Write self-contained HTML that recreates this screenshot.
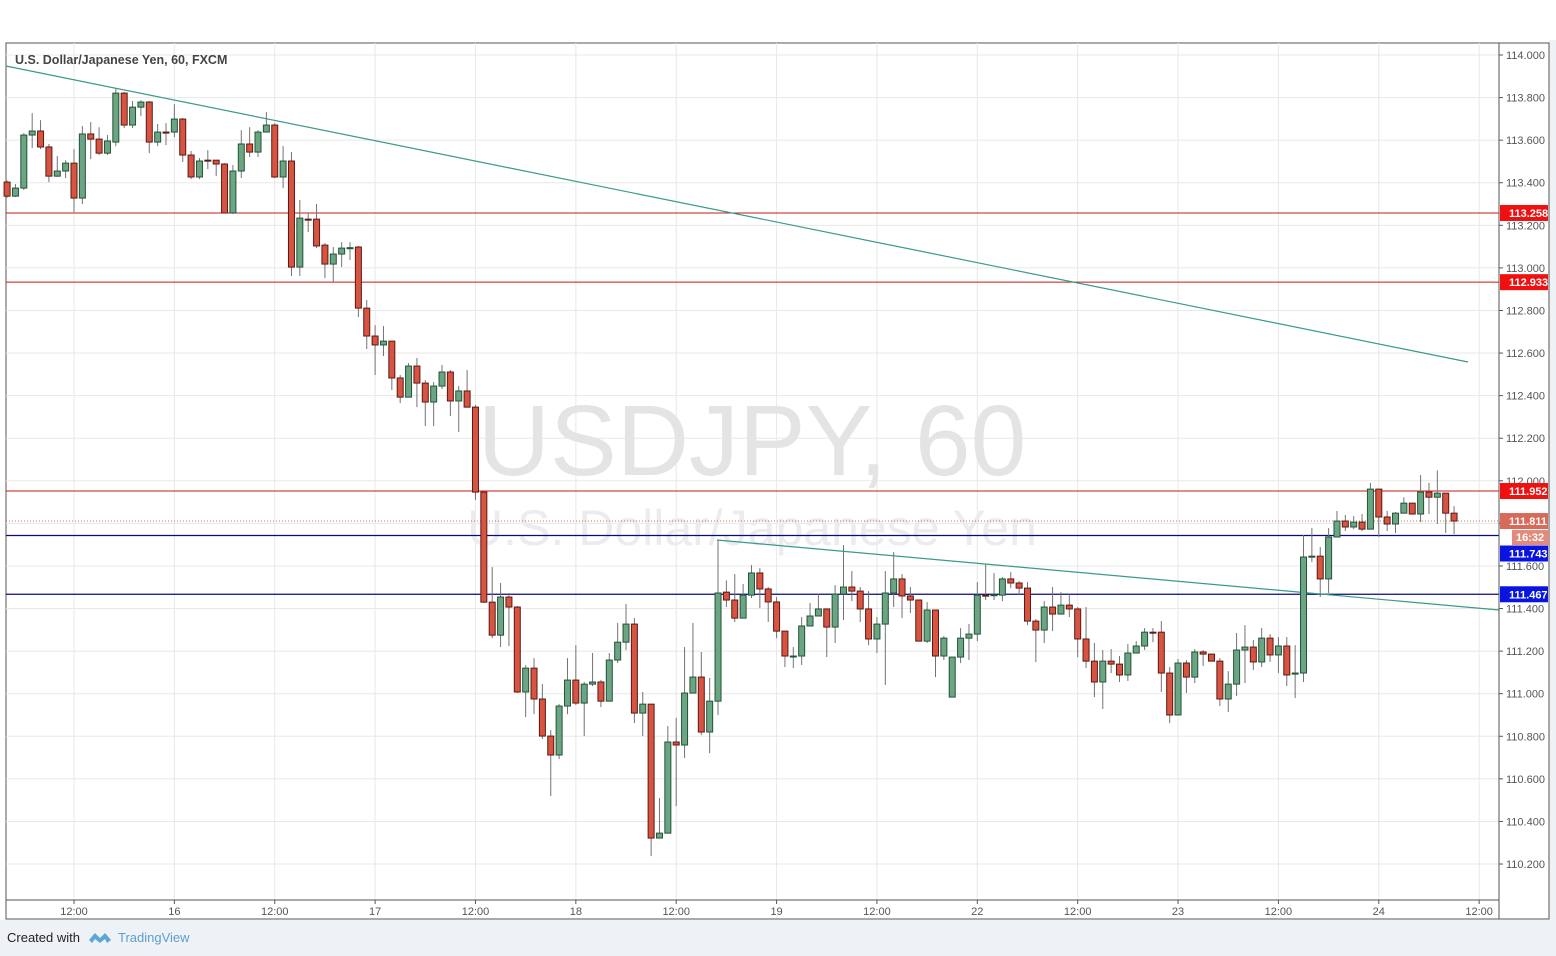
<!DOCTYPE html>
<html><head><meta charset="utf-8">
<style>
html,body{margin:0;padding:0;width:1556px;height:956px;overflow:hidden;background:#fff;font-family:"Liberation Sans",sans-serif;}
#wrap{position:absolute;left:0;top:0;width:1556px;height:956px;}
.footer{position:absolute;left:0;top:920px;width:1556px;height:36px;background:#eef2f6;}
.side{position:absolute;left:1549px;top:40px;width:7px;height:880px;background:#eef2f6;}
</style></head>
<body>
<div id="wrap">
<div class="side"></div>
<div class="footer">
  <span style="position:absolute;left:7px;top:10px;font-size:13px;color:#222;">Created with</span>
  <svg style="position:absolute;left:88px;top:9px" width="24" height="16" viewBox="0 0 24 16"><path d="M1 11 L7 4 L12 9 L17 4 L23 11 L19 14 L17 10 L12 14 L7 10 L4 14 Z" fill="#5fa6d6"/></svg>
  <span style="position:absolute;left:118px;top:10px;font-size:13px;color:#5aa0cf;">TradingView</span>
</div>
<svg id="chart" width="1556" height="920" style="position:absolute;left:0;top:0" xmlns="http://www.w3.org/2000/svg"></svg>
</div>
<script>
const opens=[113.403,113.337,113.375,113.624,113.643,113.568,113.431,113.455,113.492,113.328,113.629,113.605,113.539,113.591,113.821,113.671,113.755,113.779,113.591,113.638,113.638,113.699,113.530,113.427,113.506,113.506,113.488,113.258,113.455,113.582,113.544,113.638,113.671,113.427,113.502,113.004,113.229,113.229,113.107,113.018,113.065,113.093,113.098,112.811,112.680,112.638,112.656,112.483,112.393,112.539,112.459,112.370,112.445,112.511,112.375,112.422,112.346,111.947,111.430,111.275,111.454,111.407,111.008,111.120,110.975,110.801,110.712,110.942,111.064,110.956,111.045,111.055,110.965,111.158,111.242,111.327,110.909,110.951,110.322,110.345,110.773,110.759,111.003,111.078,110.820,110.965,111.477,111.440,111.355,111.463,111.567,111.492,111.431,111.294,111.177,111.177,111.318,111.365,111.398,111.313,111.468,111.501,111.482,111.398,111.257,111.327,111.473,111.539,111.459,111.440,111.247,111.393,111.177,110.984,111.172,111.261,111.280,111.463,111.463,111.463,111.539,111.520,111.496,111.341,111.299,111.407,111.374,111.416,111.398,111.257,111.153,111.055,111.153,111.139,111.088,111.191,111.224,111.289,111.289,111.097,110.900,111.144,111.078,111.196,111.186,111.153,110.975,111.045,111.205,111.219,111.149,111.261,111.182,111.224,111.092,111.097,111.642,111.646,111.539,111.736,111.811,111.783,111.806,111.773,111.961,111.830,111.797,111.848,111.895,111.844,111.947,111.923,111.942,111.848];
const highs=[113.41,113.394,113.633,113.727,113.694,113.582,113.525,113.506,113.558,113.666,113.685,113.661,113.624,113.845,113.826,113.784,113.788,113.784,113.676,113.680,113.769,113.704,113.549,113.516,113.553,113.506,113.492,113.483,113.647,113.661,113.647,113.732,113.680,113.572,113.544,113.319,113.258,113.300,113.117,113.098,113.121,113.121,113.103,112.849,112.731,112.727,112.656,112.497,112.553,112.577,112.473,112.464,112.544,112.520,112.445,112.520,112.356,111.952,111.595,111.520,111.473,111.412,111.134,111.167,111.045,110.829,110.951,111.167,111.228,111.055,111.191,111.064,111.191,111.332,111.421,111.355,111.008,110.951,110.510,110.848,110.886,111.219,111.332,111.196,111.074,111.722,111.532,111.562,111.515,111.604,111.590,111.501,111.454,111.294,111.219,111.360,111.426,111.468,111.398,111.510,111.698,111.576,111.501,111.482,111.360,111.576,111.665,111.562,111.501,111.440,111.430,111.393,111.271,111.172,111.308,111.327,111.524,111.609,111.567,111.548,111.571,111.529,111.524,111.351,111.435,111.501,111.477,111.468,111.407,111.407,111.238,111.205,111.210,111.177,111.233,111.247,111.308,111.308,111.341,111.125,111.163,111.158,111.210,111.205,111.186,111.167,111.106,111.285,111.322,111.252,111.308,111.280,111.266,111.266,111.228,111.745,111.778,111.689,111.778,111.858,111.839,111.834,111.844,111.990,111.961,111.858,111.853,111.923,111.895,112.027,111.990,112.049,111.942,111.881];
const lows=[113.33,113.333,113.366,113.563,113.558,113.403,113.427,113.422,113.262,113.300,113.511,113.530,113.530,113.572,113.657,113.657,113.713,113.539,113.572,113.577,113.614,113.497,113.417,113.417,113.464,113.431,113.258,113.253,113.422,113.521,113.521,113.638,113.422,113.375,112.962,112.962,113.168,113.093,112.952,112.933,113.004,113.037,112.769,112.619,112.497,112.586,112.426,112.365,112.393,112.346,112.257,112.257,112.431,112.304,112.229,112.346,111.910,111.426,111.261,111.219,111.224,111.003,110.890,110.904,110.787,110.519,110.693,110.904,110.947,110.801,111.036,110.937,110.965,111.144,111.205,110.862,110.801,110.237,110.322,110.345,110.472,110.698,111.003,110.806,110.721,110.900,111.407,111.337,111.355,111.449,111.402,111.337,111.261,111.125,111.120,111.135,111.318,111.365,111.172,111.238,111.346,111.435,111.337,111.228,111.191,111.041,111.407,111.355,111.379,111.247,111.238,111.078,111.158,110.984,111.144,111.158,111.247,111.440,111.440,111.435,111.496,111.463,111.322,111.149,111.238,111.294,111.374,111.360,111.172,111.120,110.984,110.928,111.097,111.055,111.060,111.191,111.205,111.242,111.008,110.862,110.900,111.003,111.050,111.130,111.153,110.942,110.914,110.989,111.050,111.111,111.125,111.149,111.097,111.036,110.980,111.055,111.618,111.454,111.473,111.736,111.764,111.773,111.764,111.773,111.736,111.764,111.755,111.848,111.844,111.806,111.844,111.797,111.755,111.750];
const closes=[113.337,113.375,113.624,113.643,113.568,113.431,113.455,113.492,113.328,113.629,113.605,113.539,113.596,113.821,113.671,113.755,113.779,113.591,113.638,113.636,113.699,113.530,113.427,113.502,113.504,113.488,113.258,113.455,113.582,113.544,113.638,113.671,113.427,113.502,113.004,113.234,113.227,113.103,113.018,113.065,113.093,113.095,112.811,112.680,112.638,112.656,112.483,112.393,112.539,112.459,112.370,112.445,112.511,112.375,112.422,112.346,111.947,111.430,111.275,111.454,111.407,111.008,111.120,110.975,110.801,110.712,110.942,111.064,110.956,111.045,111.055,110.965,111.158,111.242,111.327,110.909,110.951,110.322,110.345,110.773,110.759,111.003,111.078,110.820,110.965,111.473,111.440,111.355,111.463,111.567,111.492,111.431,111.294,111.177,111.177,111.318,111.365,111.398,111.313,111.468,111.501,111.482,111.398,111.257,111.327,111.473,111.539,111.459,111.440,111.247,111.393,111.177,111.261,111.172,111.261,111.280,111.463,111.461,111.465,111.539,111.520,111.496,111.341,111.299,111.407,111.374,111.416,111.398,111.257,111.153,111.055,111.153,111.139,111.088,111.191,111.224,111.289,111.287,111.097,110.900,111.144,111.078,111.196,111.186,111.153,110.975,111.045,111.205,111.219,111.149,111.261,111.182,111.224,111.088,111.097,111.642,111.646,111.539,111.736,111.811,111.783,111.806,111.773,111.961,111.830,111.797,111.848,111.895,111.844,111.947,111.923,111.942,111.848,111.811];
const priceTicks=[114.0,113.8,113.6,113.4,113.2,113.0,112.8,112.6,112.4,112.2,112.0,111.8,111.6,111.4,111.2,111.0,110.8,110.6,110.4,110.2];
const timeLabels=["12:00","16","12:00","17","12:00","18","12:00","19","12:00","22","12:00","23","12:00","24","12:00"];
const redLevels=[113.258,112.933,111.952];
const blueLevels=[111.743,111.467];
const lastPrice=111.811;
const countdown="16:32";

const NS="http://www.w3.org/2000/svg";
const svg=document.getElementById('chart');
const L=6,T=43,R=1499,B=900,FR=1549;
function yS(p){return 55+(114-p)*212.9;}
function xS(t){return 74+(t-8)*8.364;}
function mk(tag,attrs,parent){const e=document.createElementNS(NS,tag);for(const k in attrs)e.setAttribute(k,attrs[k]);(parent||svg).appendChild(e);return e;}

let bg=mk('rect',{x:L,y:T,width:FR-L,height:919-T,fill:'#fff',stroke:'#555','stroke-width':1});



const grid=mk('g',{});


priceTicks.forEach(p=>{mk('line',{x1:L,x2:R,y1:yS(p),y2:yS(p),stroke:'#e8e8e8','stroke-width':1},grid);});
timeLabels.forEach((s,k)=>{const x=xS(8+12*k);mk('line',{x1:x,x2:x,y1:T,y2:B,stroke:'#e8e8e8','stroke-width':1},grid);});

const wm=mk('text',{x:752,y:475,'text-anchor':'middle','font-size':100,fill:'#e4e4e4','font-family':'Liberation Sans, sans-serif'});
wm.textContent='USDJPY, 60';


const wm2=mk('text',{x:752,y:545,'text-anchor':'middle','font-size':50,fill:'#ececf0','font-family':'Liberation Sans, sans-serif'});
wm2.textContent='U.S. Dollar/Japanese Yen';



redLevels.forEach(p=>{const l=mk('line',{x1:L,x2:R,y1:yS(p),y2:yS(p),stroke:'#c81818','stroke-width':1});

});
blueLevels.forEach(p=>{const l=mk('line',{x1:L,x2:R,y1:yS(p),y2:yS(p),stroke:'#0a0a80','stroke-width':1.2});

});
const lp=mk('line',{x1:L,x2:R,y1:yS(lastPrice),y2:yS(lastPrice),stroke:'#c0705e','stroke-width':1,'stroke-dasharray':'1,2'});



const tl1=mk('line',{x1:L,y1:66,x2:1468,y2:362,stroke:'#3a9a8a','stroke-width':1.2});


const tl2=mk('line',{x1:717,y1:540,x2:R,y2:610,stroke:'#3a9a8a','stroke-width':1.2});



const cg=mk('g',{});


for(let i=0;i<opens.length;i++){
  const x=xS(i),up=closes[i]>=opens[i];
  const g=mk('g',{},cg);
  
  
  mk('line',{x1:x,x2:x,y1:yS(highs[i]),y2:yS(lows[i]),stroke:'#737375','stroke-width':1},g);
  const top=yS(Math.max(opens[i],closes[i])),bot=yS(Math.min(opens[i],closes[i]));
  mk('rect',{x:x-3,y:top,width:6,height:Math.max(1,bot-top),fill:up?'#6ba583':'#d75442',stroke:up?'#225437':'#5b1a13','stroke-width':1},g);
}

const ax=mk('line',{x1:R,x2:R,y1:T,y2:919,stroke:'#555','stroke-width':1});


const tx=mk('line',{x1:L,x2:R,y1:B,y2:B,stroke:'#555','stroke-width':1});


priceTicks.forEach(p=>{
  mk('line',{x1:R,x2:R+4,y1:yS(p),y2:yS(p),stroke:'#555'});
  const t=mk('text',{x:1506,y:yS(p)+4,'font-size':11,fill:'#555'});
  t.textContent=p.toFixed(3);
  
  
});
timeLabels.forEach((s,k)=>{const x=xS(8+12*k);
  mk('line',{x1:x,x2:x,y1:B,y2:B+4,stroke:'#555'});
  const t=mk('text',{x:x,y:915,'text-anchor':'middle','font-size':11,fill:'#555'});
  t.textContent=s;
  
  
});

function badge(p,txt,fill,name,dy){
  const y=yS(p)+(dy||0);
  const g=mk('g',{});
  
  
  mk('rect',{x:R+1,y:y-8,width:48,height:16,fill:fill},g);
  const t=mk('text',{x:1509,y:y+4,'font-size':11,'font-weight':'bold',fill:'#fff'},g);
  t.textContent=txt;
}
redLevels.forEach(p=>badge(p,p.toFixed(3),'#f01010','red-level-badge'));
badge(blueLevels[0],blueLevels[0].toFixed(3),'#0a14e0','blue-level-badge',18);
badge(blueLevels[1],blueLevels[1].toFixed(3),'#0a14e0','blue-level-badge');
badge(lastPrice,lastPrice.toFixed(3),'#d76a58','last-price-badge');
(function(){const y=yS(lastPrice)+16;const g=mk('g',{});


mk('rect',{x:1512,y:y-7,width:37,height:15,fill:'#e28a7c'},g);
const t=mk('text',{x:1516,y:y+4,'font-size':11,'font-weight':'bold',fill:'#fff'},g);t.textContent=countdown;})();

const title=mk('text',{x:15,y:64,'font-size':12.5,'font-weight':'bold',fill:'#444'});
title.textContent='U.S. Dollar/Japanese Yen, 60, FXCM';


</script>
</body></html>
